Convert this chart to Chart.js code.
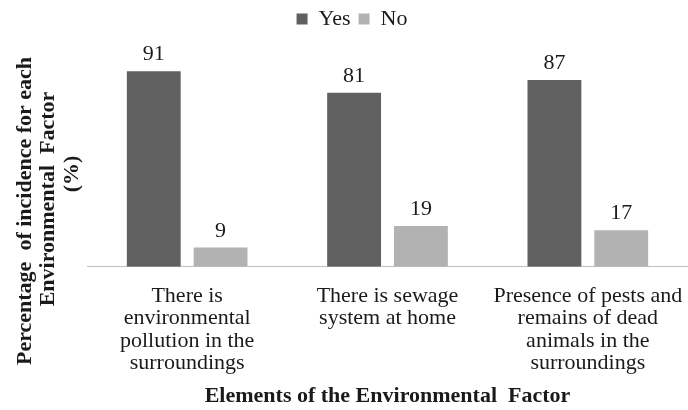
<!DOCTYPE html>
<html>
<head>
<meta charset="utf-8">
<script src="https://cdn.jsdelivr.net/npm/chart.js@4/dist/chart.umd.min.js"></script>
<style>
  html, body { margin: 0; padding: 0; background: #ffffff; }
  #wrap { width: 688px; height: 410px; }
</style>
</head>
<body>
<div id="wrap"><canvas id="chart"></canvas></div>
<script>
// Categories (multi-line labels) and the two answer series, in percent
const categories = [
  ["There is", "environmental", "pollution in the", "surroundings"],
  ["There is sewage", "system at home"],
  ["Presence of pests and", "remains of dead", "animals in the", "surroundings"]
];
const yesValues = [91, 81, 87];
const noValues = [9, 19, 17];
const seriesNames = ["Yes", "No"];
const yTitleLines = ["Percentage  of incidence for each", "Environmental  Factor", "(%)"];
const xTitle = "Elements of the Environmental  Factor";

const serif = "'Liberation Serif', 'Times New Roman', serif";
const ink = "#1a1a1a";

// Writes each bar's value just above it
const valueLabels = {
  id: "valueLabels",
  afterDatasetsDraw(chart) {
    const ctx = chart.ctx;
    ctx.save();
    ctx.font = "22px " + serif;
    ctx.fillStyle = ink;
    ctx.textAlign = "center";
    ctx.textBaseline = "alphabetic";
    chart.data.datasets.forEach((ds, i) => {
      chart.getDatasetMeta(i).data.forEach((bar, j) => {
        ctx.fillText(String(ds.data[j]), bar.x, bar.y - 11);
      });
    });
    ctx.restore();
  }
};

// Rotated, bold value-axis title in the left margin
const sideTitle = {
  id: "sideTitle",
  afterDraw(chart) {
    const ctx = chart.ctx;
    const xs = [25, 48, 72];        // column of each rotated line
    const centers = [211, 199, 174]; // vertical middle of each line
    ctx.save();
    ctx.font = "bold 22px " + serif;
    ctx.fillStyle = ink;
    ctx.textAlign = "center";
    ctx.textBaseline = "middle";
    yTitleLines.forEach((line, i) => {
      ctx.save();
      ctx.translate(xs[i], centers[i]);
      ctx.rotate(-Math.PI / 2);
      ctx.fillText(line, 0, 0);
      ctx.restore();
    });
    ctx.restore();
  }
};

// Extra room between the legend and the plot
const legendGap = {
  id: "legendGap",
  beforeInit(chart) {
    const legend = chart.legend;
    if (!legend) return;
    const fit = legend.fit;
    legend.fit = function () {
      fit.call(this);
      this.height += 12;
    };
  }
};

new Chart(document.getElementById("chart"), {
  type: "bar",
  data: {
    labels: categories,
    datasets: [
      { label: seriesNames[0], data: yesValues, backgroundColor: "#606060" },
      { label: seriesNames[1], data: noValues, backgroundColor: "#b2b2b2" }
    ]
  },
  options: {
    responsive: true,
    maintainAspectRatio: false,
    animation: false,
    layout: { padding: { left: 16, right: 0, top: 0, bottom: 0 } },
    datasets: {
      bar: { categoryPercentage: 0.667, barPercentage: 0.806 }
    },
    plugins: {
      legend: {
        position: "top",
        align: "center",
        labels: {
          boxWidth: 11,
          boxHeight: 11,
          padding: 8,
          color: ink,
          font: { family: serif, size: 22 }
        }
      },
      tooltip: { enabled: false }
    },
    scales: {
      x: {
        grid: { display: false, drawTicks: false },
        border: { display: true, color: "#c0c0c0", width: 1 },
        ticks: {
          color: ink,
          padding: 18,
          maxRotation: 0,
          autoSkip: false,
          font: { family: serif, size: 22, lineHeight: 1.02 }
        },
        title: {
          display: true,
          text: xTitle,
          color: ink,
          padding: { top: -9, bottom: 0 },
          font: { family: serif, size: 22, weight: "bold", lineHeight: 1.2 }
        },
        afterFit(scale) {
          scale.paddingLeft = 0;
          scale.paddingRight = 0;
        }
      },
      y: {
        min: 0,
        max: 100,
        grid: { display: false, drawTicks: false },
        border: { display: false },
        ticks: { display: false },
        title: { display: false },
        afterFit(scale) { scale.width = 71; }
      }
    }
  },
  plugins: [legendGap, valueLabels, sideTitle]
});
</script>
</body>
</html>
